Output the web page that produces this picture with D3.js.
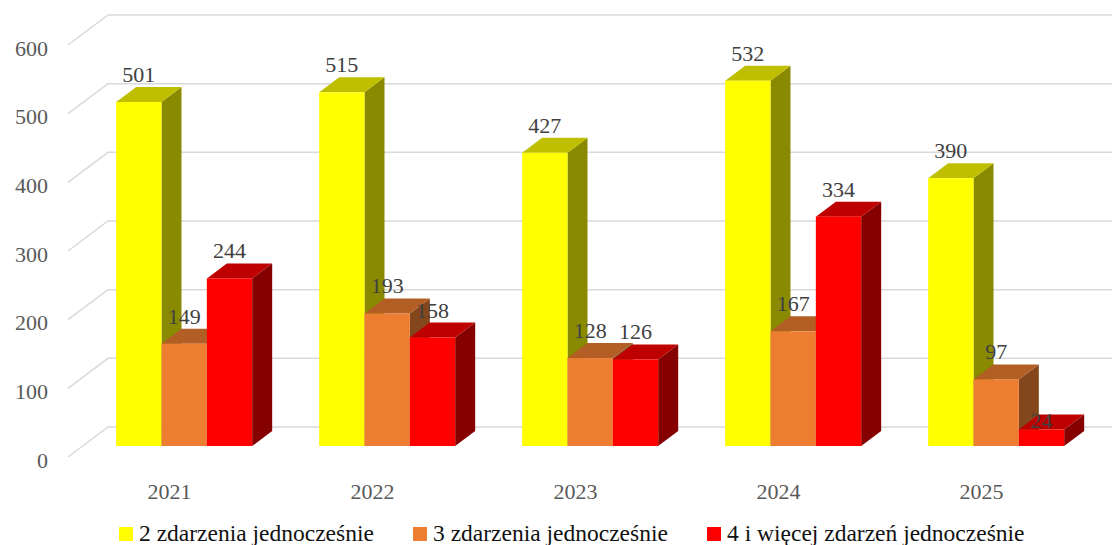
<!DOCTYPE html>
<html>
<head>
<meta charset="utf-8">
<script src="https://cdn.jsdelivr.net/npm/d3@7"></script>
<style>
  body { margin: 0; background: #fff; }
</style>
</head>
<body>
<script>
const years = ["2021", "2022", "2023", "2024", "2025"];
const seriesNames = ["2 zdarzenia jednocześnie", "3 zdarzenia jednocześnie", "4 i więcej zdarzeń jednocześnie"];
const two = [501, 515, 427, 532, 390];
const three = [149, 193, 128, 167, 97];
const fourPlus = [244, 158, 126, 334, 24];
const yTicks = [0, 100, 200, 300, 400, 500, 600];

// front / top / side shades per series
const colors = [
  { front: "#ffff00", top: "#bfbf00", side: "#8a8a00" },
  { front: "#ed7d31", top: "#b25e25", side: "#84461b" },
  { front: "#ff0000", top: "#bf0000", side: "#850000" }
];

const W = 1112, H = 545;
const svg = d3.select("body").append("svg")
  .attr("width", W).attr("height", H)
  .attr("font-family", "Liberation Serif, DejaVu Serif, Noto Serif, Times New Roman, serif")
  .style("display", "block");

// 3d floor depth
const depthX = 40, depthY = -30;
const barDx = 20, barDy = -15;  // bar depth
const barFront = 11 / 30;       // where the bar front sits inside the floor depth

const y = d3.scaleLinear().domain([0, 600]).range([457, 45]);
const x0 = d3.scaleBand().domain(years).range([68, 1083]);
const x1 = d3.scaleBand().domain(d3.range(3))
  .range([x0.bandwidth() * 0.165, x0.bandwidth() * 0.835]);

// gridlines: slanted wall side then horizontal back
const grid = svg.append("g");
yTicks.forEach(t => {
  grid.append("path")
    .attr("d", `M68,${y(t)}L${68 + depthX},${y(t) + depthY}L${W},${y(t) + depthY}`)
    .attr("fill", "none")
    .attr("stroke", "#d9d9d9")
    .attr("stroke-width", 1.5);
  grid.append("text")
    .attr("x", 48)
    .attr("y", y(t) + 3)
    .attr("text-anchor", "end")
    .attr("dominant-baseline", "central")
    .attr("font-size", 22)
    .attr("fill", "#595959")
    .text(t);
});

const data = years.map((yr, i) => [two[i], three[i], fourPlus[i]].map((v, s) => ({ yr, v, s })));

const ox = depthX * barFront, oy = depthY * barFront;
const bars = svg.append("g");
data.forEach(group => {
  group.forEach(d => {
    const xl = x0(d.yr) + x1(d.s) + ox;
    const xr = xl + x1.bandwidth();
    const yb = y(0) + oy;
    const yt = y(d.v) + oy;
    const c = colors[d.s];
    const g = bars.append("g");
    g.append("path")
      .attr("d", `M${xr},${yt}L${xr + barDx},${yt + barDy}L${xr + barDx},${yb + barDy}L${xr},${yb}Z`)
      .attr("fill", c.side);
    g.append("path")
      .attr("d", `M${xl},${yt}L${xl + barDx},${yt + barDy}L${xr + barDx},${yt + barDy}L${xr},${yt}Z`)
      .attr("fill", c.top);
    g.append("rect")
      .attr("x", xl).attr("y", yt)
      .attr("width", xr - xl).attr("height", yb - yt)
      .attr("fill", c.front);
  });
});

const labels = svg.append("g");
data.flat().forEach(d => {
  const xl = x0(d.yr) + x1(d.s) + ox;
  const yt = y(d.v) + oy;
  const short = (y(0) - y(d.v)) < 30;
  labels.append("text")
    .attr("x", xl + x1.bandwidth() / 2)
    .attr("y", short ? yt - 2 : yt - 20)
    .attr("text-anchor", "middle")
    .attr("font-size", 22)
    .attr("fill", "#404040")
    .text(d.v);
});

// category labels
svg.append("g").selectAll("text").data(years).join("text")
  .attr("x", d => x0(d) + x0.bandwidth() / 2)
  .attr("y", 499)
  .attr("text-anchor", "middle")
  .attr("font-size", 22)
  .attr("fill", "#595959")
  .text(d => d);

// legend
const legendX = [119, 413, 707];
const legend = svg.append("g");
seriesNames.forEach((name, i) => {
  legend.append("rect")
    .attr("x", legendX[i]).attr("y", 527)
    .attr("width", 14).attr("height", 14)
    .attr("fill", colors[i].front);
  legend.append("text")
    .attr("x", legendX[i] + 20)
    .attr("y", 541)
    .attr("font-size", 23.5)
    .attr("fill", "#111")
    .text(name);
});
</script>
</body>
</html>
